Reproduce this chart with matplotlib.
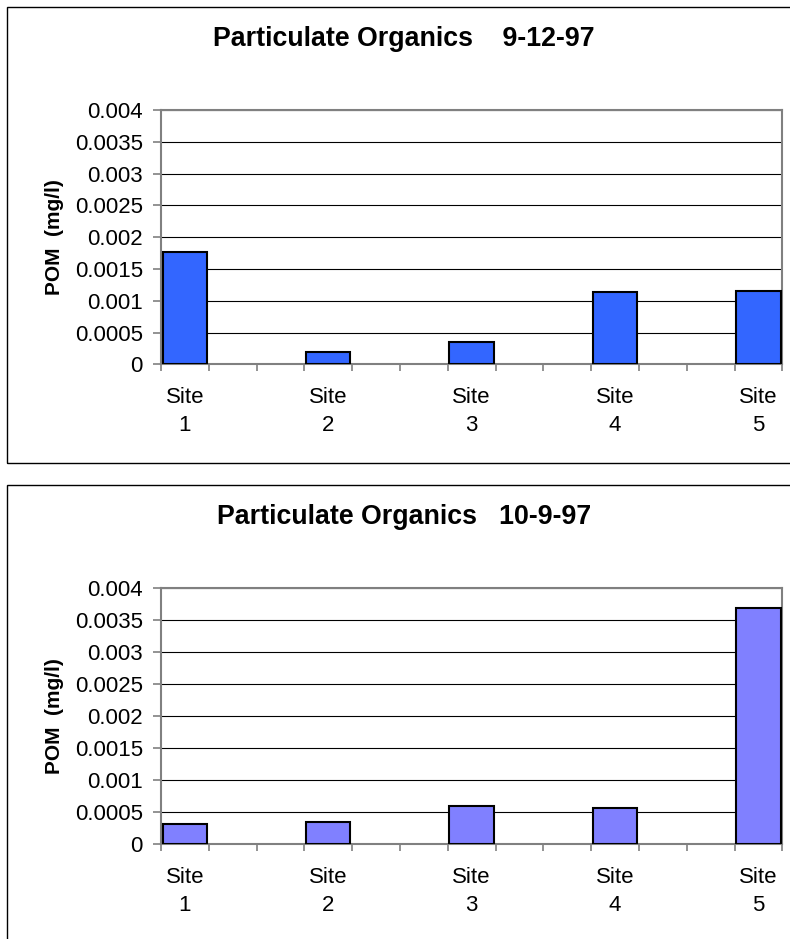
import matplotlib
matplotlib.use("Agg")
import matplotlib.pyplot as plt
from matplotlib.patches import Rectangle
import numpy as np

plt.rcParams['font.family'] = ['Liberation Sans', 'DejaVu Sans']

# POM (mg/l) per site for the two sampling dates
sites = ["Site\n1", "Site\n2", "Site\n3", "Site\n4", "Site\n5"]
pom_sep = [0.00177, 0.000194, 0.000356, 0.001137, 0.001148]
pom_oct = [0.000322, 0.000344, 0.000594, 0.000567, 0.0037]
titles = ["Particulate Organics    9-12-97", "Particulate Organics   10-9-97"]
yticks = [0, 0.0005, 0.001, 0.0015, 0.002, 0.0025, 0.003, 0.0035, 0.004]
ytick_labels = ["0", "0.0005", "0.001", "0.0015", "0.002", "0.0025", "0.003", "0.0035", "0.004"]

# Excel-style category axis: two empty slots between each site
n_slots = 13
site_slots = [0, 3, 6, 9, 12]

fig = plt.figure(figsize=(7.9, 9.39), dpi=100)

# outer chart frames
fig.patches.append(Rectangle((7 / 790, (939 - 463) / 939), 1.0, 456 / 939,
                             transform=fig.transFigure, fill=False,
                             edgecolor="black", linewidth=1.0))
fig.patches.append(Rectangle((7 / 790, -0.05), 1.0, 0.05 + (939 - 485) / 939,
                             transform=fig.transFigure, fill=False,
                             edgecolor="black", linewidth=1.0))

panels = [
    (pom_sep, "#3366FF", [161 / 790, (939 - 364.3) / 939, 621.3 / 790, 254.3 / 939], titles[0], 39),
    (pom_oct, "#8080FF", [161 / 790, (939 - 844.3) / 939, 621.3 / 790, 256 / 939], titles[1], 516.7),
]

for vals, color, rect, title, ty in panels:
    ax = fig.add_axes(rect)
    ax.bar(site_slots, vals, width=0.93, color=color, edgecolor="black",
           linewidth=1.5, zorder=3)
    ax.set_xlim(-0.5, n_slots - 0.5)
    ax.set_ylim(0, 0.004)
    ax.set_yticks(yticks)
    ax.set_yticklabels(ytick_labels)
    ax.yaxis.grid(True, color="black", linewidth=0.8, zorder=0)
    ax.set_axisbelow(True)

    ax.set_xticks(site_slots)
    ax.set_xticklabels(sites, linespacing=1.45)
    ax.set_xticks(np.arange(n_slots + 1) - 0.5, minor=True)
    ax.tick_params(axis="x", which="major", length=0, pad=16.5, labelsize=16)
    ax.tick_params(axis="x", which="minor", length=5, color="#808080", width=1.2)
    ax.tick_params(axis="y", length=6, color="#808080", width=1.2, pad=7, labelsize=16)

    for sp in ax.spines.values():
        sp.set_color("#808080")
        sp.set_linewidth(1.5)

    ax.set_ylabel("POM  (mg/l)", fontsize=15, fontweight="bold", labelpad=8)
    fig.text(404 / 790, 1 - ty / 939, title, ha="center", va="center",
             fontsize=19.3, fontweight="bold")

fig.savefig("out.png", dpi=100)
